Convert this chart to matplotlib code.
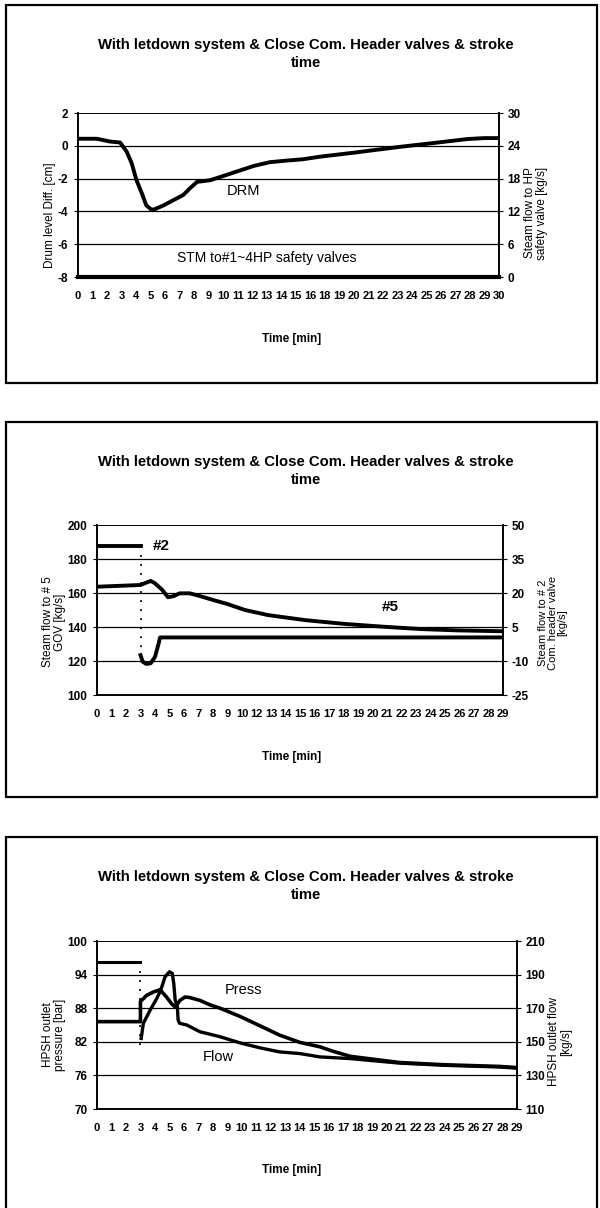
import matplotlib
matplotlib.use("Agg")
import matplotlib.pyplot as plt
import numpy as np

plt.rcParams['font.family'] = ['Liberation Sans Narrow', 'Liberation Sans', 'DejaVu Sans']
plt.rcParams['axes.unicode_minus'] = False

TITLE = "With letdown system & Close Com. Header valves & stroke\ntime"

# ---- panel 1: drum level ----
p1_labels = [str(i) for i in range(0, 17)] + [str(i) for i in range(18, 31)]
drm_x = [0, 1.3, 2.2, 2.9, 3.35, 3.7, 4.03, 4.4, 4.7, 5.07, 5.3, 5.9, 6.6, 7.25, 7.7,
         8.2, 9.1, 9.8, 10.9, 12.1, 13.2, 14.4, 15.5, 16.7, 19.0, 22.2, 24.5, 26.8, 28.0, 29.0]
drm_y = [0.43, 0.43, 0.26, 0.2, -0.35, -1.07, -2.1, -2.9, -3.63, -3.9, -3.86, -3.63, -3.3, -3.0, -2.6,
         -2.2, -2.1, -1.9, -1.58, -1.23, -1.0, -0.9, -0.82, -0.66, -0.42, -0.06, 0.17, 0.41, 0.47, 0.47]
stm_x = [0, 29]
stm_y = [0, 0]

# ---- panel 2: steam flow #5 (left) and #2 (right) ----
p2_labels = [str(i) for i in range(0, 11)] + [str(i) for i in range(12, 30)]
f5_x = [0, 3.0, 3.4, 3.7, 4.0, 4.5, 4.9, 5.3, 5.7, 6.4, 7.1, 8.0, 9.0, 10.2, 11.8, 14.4,
        17.1, 19.7, 22.3, 24.9, 28.0]
f5_y = [163.7, 164.7, 166.1, 167.1, 165.7, 161.8, 157.5, 158.2, 159.8, 159.8, 158.2, 155.9, 153.5,
        150.0, 147.0, 144.0, 141.8, 140.2, 138.8, 138.0, 137.5]
f2_before_x = [0, 3.0]
f2_before_y = [40.7, 40.7]
f2_drop_x = [3.0, 3.0]
f2_drop_y = [40.7, -7.4]
f2_x = [3.0, 3.15, 3.4, 3.7, 4.0, 4.25, 4.35, 28.0]
f2_y = [-7.4, -10.3, -11.3, -11.0, -8.2, -2.3, 0.4, 0.4]

# ---- panel 3: HPSH pressure (left) and flow (right) ----
p3_labels = [str(i) for i in range(0, 30)]
press_x = [0, 3.0, 3.0, 3.43, 3.9, 4.35, 4.8, 5.15, 5.4, 5.73, 6.08, 6.4, 7.1, 7.8, 8.5, 9.9,
           11.3, 12.6, 14.0, 15.4, 16.3, 17.5, 20.9, 24.0, 27.8, 29.0]
press_y = [85.6, 85.6, 89.2, 90.3, 90.9, 91.3, 90.0, 88.8, 88.2, 89.4, 90.0, 89.9, 89.4, 88.6, 88.0, 86.5,
           84.8, 83.2, 81.9, 81.1, 80.3, 79.4, 78.3, 77.9, 77.6, 77.4]
flow_before_x = [0, 3.0]
flow_before_y = [197.3, 197.3]
flow_drop_x = [3.0, 3.0]
flow_drop_y = [197.3, 145.0]
flow_x = [3.05, 3.2, 3.66, 4.12, 4.4, 4.7, 5.0, 5.2, 5.3, 5.4, 5.55, 5.6, 5.7, 6.2, 7.1, 8.5,
          9.9, 11.3, 12.6, 14.0, 15.4, 17.5, 20.9, 24.0, 27.8, 29.0]
flow_y = [152, 161, 168.7, 175.7, 180.7, 188.7, 191.7, 190.7, 184.7, 174.7, 170.7, 163, 161, 160, 156,
          153, 149.3, 146.3, 144, 143, 141, 140, 137.3, 136, 135, 134.3]

W, H = 600, 1208
fig = plt.figure(figsize=(6, 12.08), dpi=100)


def fx(px):
    return px / W


def fy(py):
    return 1 - py / H


def box(top, bottom):
    r = plt.Rectangle((fx(6), fy(bottom)), fx(597) - fx(6), fy(top) - fy(bottom),
                      transform=fig.transFigure, fill=False, lw=1.6, color='black')
    fig.add_artist(r)


def make_axes(left, right, top, bottom):
    return fig.add_axes([fx(left), fy(bottom), fx(right) - fx(left), fy(top) - fy(bottom)])


def style(ax, ax2, labels, ylim, yticks, ylim2, yticks2):
    ax.set_xlim(0, len(labels) - 1)
    ax.set_xticks(range(len(labels)))
    ax.set_xticklabels(labels, fontsize=8, fontweight='bold')
    ax.tick_params(axis='x', length=0, pad=10)
    ax.set_ylim(*ylim)
    ax.set_yticks(yticks)
    ax.tick_params(axis='y', labelsize=8.5, length=3, width=0.8, pad=4)
    for t in ax.get_yticklabels():
        t.set_fontweight('bold')
    ax2.set_ylim(*ylim2)
    ax2.set_yticks(yticks2)
    ax2.tick_params(axis='y', labelsize=8.5, length=3, width=0.8, pad=3)
    for t in ax2.get_yticklabels():
        t.set_fontweight('bold')
    for g in yticks[1:-1]:
        ax.axhline(g, color='black', lw=0.9, zorder=1)
    for a in (ax, ax2):
        a.spines['top'].set_linewidth(0.6)
        a.spines['left'].set_linewidth(1.2)
        a.spines['right'].set_linewidth(1.2)
        a.spines['bottom'].set_linewidth(1.2)


def titles(title_y, time_y):
    fig.text(fx(306), fy(title_y), TITLE, ha='center', va='center', fontsize=10.7,
             fontweight='bold', linespacing=1.45)
    fig.text(fx(292), fy(time_y), "Time [min]", ha='center', va='center', fontsize=8.5,
             fontweight='bold')


# ================= panel 1 =================
box(5, 383)
ax1 = make_axes(78, 499, 113, 277)
ax1b = ax1.twinx()
style(ax1, ax1b, p1_labels, (-8, 2), [-8, -6, -4, -2, 0, 2], (0, 30), [0, 6, 12, 18, 24, 30])
ax1.plot(drm_x, drm_y, color='black', lw=2.8, zorder=3)
ax1b.plot(stm_x, stm_y, color='black', lw=3.0, clip_on=False, zorder=3)
titles(54, 339)
fig.text(fx(267), fy(258), "STM to#1~4HP safety valves", ha='center', va='center', fontsize=10)
fig.text(fx(243), fy(191), "DRM", ha='center', va='center', fontsize=10.5)
fig.text(fx(50), fy(215), "Drum level Diff. [cm]", rotation=90, ha='center', va='center',
         fontsize=8.5)
fig.text(fx(536), fy(213), "Steam flow to HP\nsafety valve [kg/s]", rotation=90, ha='center',
         va='center', fontsize=8.5, linespacing=0.95)

# ================= panel 2 =================
box(422, 797)
ax2 = make_axes(97, 503, 525, 695)
ax2b = ax2.twinx()
style(ax2, ax2b, p2_labels, (100, 200), [100, 120, 140, 160, 180, 200],
      (-25, 50), [-25, -10, 5, 20, 35, 50])
ax2.plot(f5_x, f5_y, color='black', lw=2.8, zorder=3)
ax2b.plot(f2_before_x, f2_before_y, color='black', lw=2.8, zorder=3)
ax2b.plot(f2_drop_x, f2_drop_y, color='black', lw=1.3, ls=(0, (1, 4)), zorder=3)
ax2b.plot(f2_x, f2_y, color='black', lw=2.8, zorder=3)
titles(471, 757)
fig.text(fx(161), fy(546), "#2", ha='center', va='center', fontsize=11, fontweight='bold')
fig.text(fx(390), fy(607), "#5", ha='center', va='center', fontsize=11, fontweight='bold')
fig.text(fx(54), fy(622), "Steam flow to # 5\nGOV [kg/s]", rotation=90, ha='center',
         va='center', fontsize=8.5, linespacing=0.95)
fig.text(fx(553), fy(623), "Steam flow to # 2\nCom. header valve\n[kg/s]", rotation=90,
         ha='center', va='center', fontsize=8, linespacing=0.95)

# ================= panel 3 =================
box(837, 1215)
ax3 = make_axes(97, 517, 941, 1109)
ax3b = ax3.twinx()
style(ax3, ax3b, p3_labels, (70, 100), [70, 76, 82, 88, 94, 100],
      (110, 210), [110, 130, 150, 170, 190, 210])
ax3.plot(press_x, press_y, color='black', lw=2.6, zorder=3)
ax3b.plot(flow_before_x, flow_before_y, color='black', lw=2.2, zorder=3)
ax3b.plot(flow_drop_x, flow_drop_y, color='black', lw=1.3, ls=(0, (1, 4)), zorder=3)
ax3b.plot(flow_x, flow_y, color='black', lw=2.4, zorder=3)
titles(886, 1170)
fig.text(fx(244), fy(990), "Press", ha='center', va='center', fontsize=10.5)
fig.text(fx(218), fy(1057), "Flow", ha='center', va='center', fontsize=10.5)
fig.text(fx(54), fy(1035), "HPSH outlet\npressure [bar]", rotation=90, ha='center',
         va='center', fontsize=8.5, linespacing=0.95)
fig.text(fx(560), fy(1042), "HPSH outlet flow\n[kg/s]", rotation=90, ha='center',
         va='center', fontsize=8.5, linespacing=0.95)

fig.savefig("out.png", dpi=100)
